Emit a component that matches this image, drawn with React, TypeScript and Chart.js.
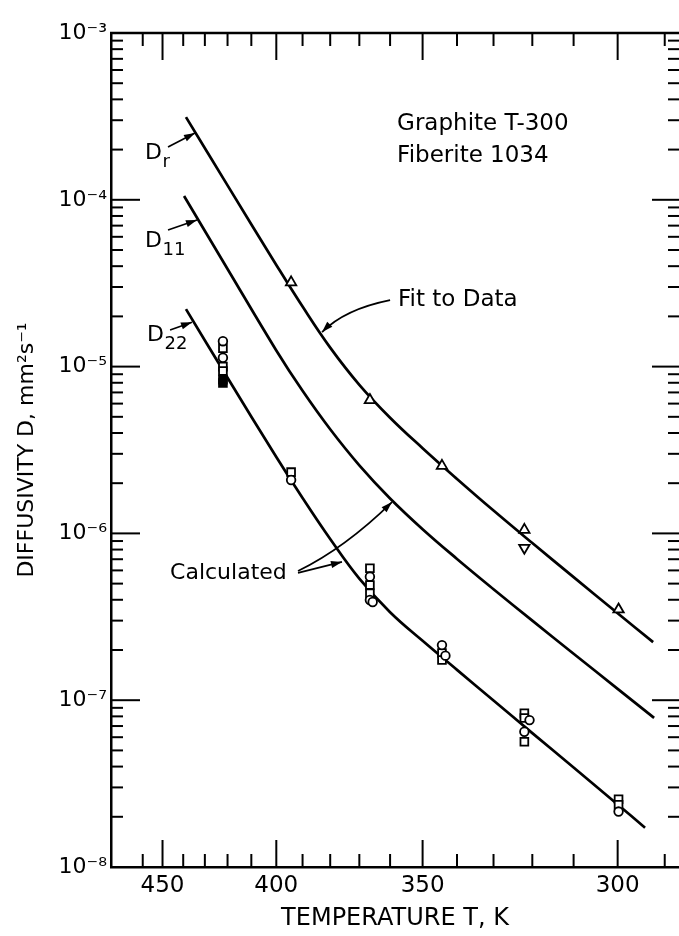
import React, { useEffect, useRef } from 'react';
import { Chart, registerables } from 'chart.js';

Chart.register(...registerables);

const FONT = '"DejaVu Sans", sans-serif';

// ---- axes ----
const X_T_LEFT = 477;      // temperature (K) at the left edge of the plot
const X_T_RIGHT = 287.1;   // temperature (K) at the right edge of the plot
const X_TICK_T = [460, 450, 440, 430, 420, 410, 400, 390, 380, 370, 360, 350, 340, 330, 320, 310, 300, 290];
const X_LABEL_T = [450, 400, 350, 300];
const Y_MIN = 1e-8;
const Y_MAX = 1e-3;
const Y_DECADES = [-8, -7, -6, -5, -4, -3];

// ---- calculated / fitted curves (T in K, D in mm^2/s) ----
const CURVE_DR_T = [438.7, 420, 400, 390, 380, 370, 360, 350, 340, 330, 320, 310, 300, 292.4];
const CURVE_DR_D = [3.13e-4, 1.22e-4, 4.07e-5, 2.29e-5, 1.30e-5, 7.78e-6, 4.94e-6, 3.24e-6, 2.12e-6, 1.37e-6, 8.75e-7, 5.47e-7, 3.32e-7, 2.23e-7];
const CURVE_D11_T = [439.6, 420, 400, 390, 380, 370, 360, 350, 340, 330, 320, 310, 300, 292.2];
const CURVE_D11_D = [1.054e-4, 3.85e-5, 1.25e-5, 7.16e-6, 4.21e-6, 2.56e-6, 1.62e-6, 1.06e-6, 7.03e-7, 4.63e-7, 3.0e-7, 1.90e-7, 1.17e-7, 7.83e-8];
const CURVE_D22_T = [438.7, 420, 400, 390, 380, 370, 360, 350, 340, 330, 320, 310, 300, 294.1];
const CURVE_D22_D = [2.21e-5, 8.57e-6, 2.87e-6, 1.63e-6, 9.25e-7, 5.35e-7, 3.37e-7, 2.27e-7, 1.52e-7, 9.96e-8, 6.35e-8, 3.95e-8, 2.37e-8, 1.72e-8];

// ---- measured data ----
const DR_UP_T = [394.3, 366.5, 344.3, 322.0, 299.8];
const DR_UP_D = [3.2e-5, 6.3e-6, 2.54e-6, 1.05e-6, 3.5e-7];
const DR_DOWN_T = [322.0];
const DR_DOWN_D = [8.2e-7];
const D22_CIRCLE_T = [422.0, 422.0, 394.3, 366.5, 366.5, 365.6, 344.3, 343.3, 320.7, 322.0, 299.8];
const D22_CIRCLE_D = [1.42e-5, 1.13e-5, 2.09e-6, 5.5e-7, 3.99e-7, 3.88e-7, 2.14e-7, 1.85e-7, 7.6e-8, 6.47e-8, 2.15e-8];
const D22_SQUARE_T = [422.0, 422.0, 422.0, 394.3, 366.5, 366.5, 366.5, 344.3, 344.3, 322.0, 322.0, 322.0, 299.8, 299.8];
const D22_SQUARE_D = [1.29e-5, 1.0e-5, 9.4e-6, 2.33e-6, 6.18e-7, 4.9e-7, 4.38e-7, 1.92e-7, 1.74e-7, 8.34e-8, 7.82e-8, 5.63e-8, 2.55e-8, 2.36e-8];
const D22_FILLED_T = [422.0, 422.0];
const D22_FILLED_D = [8.35e-6, 7.98e-6];

// ---- annotations (anchored in data space: T in K, log10 D) ----
const NOTES = [
  { text: 'Graphite T-300', T: 357.8, logD: -3.543, size: 23 },
  { text: 'Fiberite 1034', T: 357.8, logD: -3.737, size: 23 },
  { text: 'Fit to Data', T: 357.5, logD: -4.598, size: 23 },
  { text: 'Calculated', T: 446.3, logD: -6.237, size: 22 },
];
const CURVE_LABELS = [
  { sub: 'r', T: 458.8, logD: -3.719 },
  { sub: '11', T: 458.8, logD: -4.250 },
  { sub: '22', T: 457.8, logD: -4.811 },
];
const ARROWS = [
  { from: [447.3, -3.683], to: [434.5, -3.600] },
  { from: [447.3, -4.181], to: [433.6, -4.121] },
  { from: [446.3, -4.781], to: [435.9, -4.734] },
  { from: [360.0, -4.601], ctrl: [374.9, -4.655], to: [382.9, -4.793] },
  { from: [391.7, -6.237], to: [375.9, -6.171] },
  { from: [391.7, -6.225], ctrl: [374.9, -6.088], to: [359.4, -5.812] },
];

const toU = (T: number) => 1000 / T;
const pts = (Ts: number[], Ds: number[]) => Ts.map((T, i) => ({ x: toU(T), y: Ds[i] }));

const SUP: Record<string, string> = { '-': '\u207B', '0': '\u2070', '1': '\u00B9', '2': '\u00B2', '3': '\u00B3', '4': '\u2074', '5': '\u2075', '6': '\u2076', '7': '\u2077', '8': '\u2078', '9': '\u2079' };
const sup = (n: number) => String(n).split('').map((c) => SUP[c] || c).join('');

function isDecade(v: number) {
  const e = Math.round(Math.log10(v));
  return Math.abs(v / Math.pow(10, e) - 1) < 1e-6;
}

function drawArrow(ctx: CanvasRenderingContext2D, x0: number, y0: number, x1: number, y1: number, c?: number[]) {
  ctx.lineWidth = 1.7;
  ctx.beginPath();
  ctx.moveTo(x0, y0);
  if (c) ctx.quadraticCurveTo(c[0], c[1], x1, y1);
  else ctx.lineTo(x1, y1);
  ctx.stroke();
  const bx = c ? c[0] : x0;
  const by = c ? c[1] : y0;
  const ang = Math.atan2(y1 - by, x1 - bx);
  const L = 11;
  const W = 3.6;
  ctx.beginPath();
  ctx.moveTo(x1, y1);
  ctx.lineTo(x1 - L * Math.cos(ang) + W * Math.sin(ang), y1 - L * Math.sin(ang) - W * Math.cos(ang));
  ctx.lineTo(x1 - L * Math.cos(ang) - W * Math.sin(ang), y1 - L * Math.sin(ang) + W * Math.cos(ang));
  ctx.closePath();
  ctx.fill();
}

const frameTicks = {
  id: 'frameTicks',
  afterDatasetsDraw(chart: any) {
    const { ctx, chartArea: a, scales } = chart;
    const x = scales.x;
    const y = scales.y;
    ctx.save();
    ctx.strokeStyle = '#000';
    ctx.lineCap = 'butt';
    const line = (x0: number, y0: number, x1: number, y1: number) => {
      ctx.beginPath();
      ctx.moveTo(x0, y0);
      ctx.lineTo(x1, y1);
      ctx.stroke();
    };
    ctx.lineWidth = 2.5;
    line(a.left - 1, a.top, a.right, a.top);
    ctx.lineWidth = 2;
    X_TICK_T.forEach((T) => {
      const px = x.getPixelForValue(toU(T));
      const len = X_LABEL_T.includes(T) ? 27 : 13;
      line(px, a.bottom, px, a.bottom - len);
      line(px, a.top, px, a.top + len);
    });
    y.ticks.forEach((t: any) => {
      const py = y.getPixelForValue(t.value);
      const major = isDecade(t.value);
      line(a.left, py, a.left + (major ? 29 : 12), py);
      line(a.right, py, a.right - (major ? 27 : 11), py);
    });
    ctx.restore();
  },
};

const annotations = {
  id: 'annotations',
  afterDatasetsDraw(chart: any) {
    const { ctx, scales } = chart;
    const px = (T: number) => scales.x.getPixelForValue(toU(T));
    const py = (logD: number) => scales.y.getPixelForValue(Math.pow(10, logD));
    ctx.save();
    ctx.fillStyle = '#000';
    ctx.strokeStyle = '#000';
    ctx.textBaseline = 'middle';
    ctx.textAlign = 'left';
    NOTES.forEach((n) => {
      ctx.font = `${n.size}px ${FONT}`;
      ctx.fillText(n.text, px(n.T), py(n.logD));
    });
    CURVE_LABELS.forEach((l) => {
      const x0 = px(l.T);
      const y0 = py(l.logD);
      ctx.font = `22px ${FONT}`;
      ctx.fillText('D', x0, y0);
      const w = ctx.measureText('D').width;
      ctx.font = `18px ${FONT}`;
      ctx.fillText(l.sub, x0 + w + 0.5, y0 + 9);
    });
    ARROWS.forEach((ar) => {
      const c = ar.ctrl ? [px(ar.ctrl[0]), py(ar.ctrl[1])] : undefined;
      drawArrow(ctx, px(ar.from[0]), py(ar.from[1]), px(ar.to[0]), py(ar.to[1]), c);
    });
    ctx.restore();
  },
};

export default function App() {
  const ref = useRef<HTMLCanvasElement | null>(null);

  useEffect(() => {
    if (!ref.current) return;
    Chart.defaults.font.family = FONT;
    Chart.defaults.color = '#000';

    const curve = (label: string, Ts: number[], Ds: number[]) => ({
      label,
      data: pts(Ts, Ds),
      showLine: true,
      borderColor: '#000',
      borderWidth: 2.7,
      pointRadius: 0,
      tension: 0.4,
      fill: false,
      order: 1,
    });
    const marks = (label: string, Ts: number[], Ds: number[], style: string, radius: number, bg: string, rotation = 0) => ({
      label,
      data: pts(Ts, Ds),
      showLine: false,
      pointStyle: style,
      pointRadius: radius,
      pointRotation: rotation,
      pointBorderWidth: 1.8,
      pointBorderColor: '#000',
      pointBackgroundColor: bg,
      borderColor: '#000',
      backgroundColor: bg,
      order: 0,
    });

    const chart = new Chart(ref.current, {
      type: 'scatter',
      data: {
        datasets: [
          curve('Dr', CURVE_DR_T, CURVE_DR_D),
          curve('D11', CURVE_D11_T, CURVE_D11_D),
          curve('D22', CURVE_D22_T, CURVE_D22_D),
          marks('Dr data', DR_UP_T, DR_UP_D, 'triangle', 6, '#fff'),
          marks('Dr data (down)', DR_DOWN_T, DR_DOWN_D, 'triangle', 6, '#fff', 180),
          marks('D22 circles', D22_CIRCLE_T, D22_CIRCLE_D, 'circle', 4.3, '#fff'),
          marks('D22 squares', D22_SQUARE_T, D22_SQUARE_D, 'rect', 5.5, '#fff'),
          marks('D22 filled', D22_FILLED_T, D22_FILLED_D, 'rect', 5.5, '#000'),
        ] as any,
      },
      options: {
        responsive: false,
        devicePixelRatio: 1,
        animation: false,
        events: [],
        layout: { autoPadding: false, padding: { top: 33, right: 0, bottom: 0, left: 0 } },
        plugins: { legend: { display: false }, tooltip: { enabled: false } },
        scales: {
          x: {
            type: 'linear',
            position: 'bottom',
            min: toU(X_T_LEFT),
            max: toU(X_T_RIGHT),
            afterBuildTicks: (s: any) => {
              s.ticks = X_TICK_T.map((T) => ({ value: toU(T) }));
            },
            afterFit: (s: any) => {
              s.height = 69;
            },
            grid: { display: false, drawTicks: false },
            border: { display: true, color: '#000', width: 2.5 },
            ticks: {
              autoSkip: false,
              maxRotation: 0,
              padding: 5,
              color: '#000',
              font: { family: FONT, size: 23 },
              callback: (v: any) => {
                const T = Math.round(1000 / Number(v));
                return X_LABEL_T.includes(T) ? String(T) : '';
              },
            },
            title: {
              display: true,
              text: 'TEMPERATURE T, K',
              color: '#000',
              font: { family: FONT, size: 24 },
              padding: { top: 0, bottom: 3 },
            },
          },
          y: {
            type: 'logarithmic',
            min: Y_MIN,
            max: Y_MAX,
            afterBuildTicks: (s: any) => {
              const t: any[] = [];
              Y_DECADES.forEach((e) => {
                for (let k = 1; k <= 9; k++) {
                  const v = k * Math.pow(10, e);
                  if (v <= Y_MAX * 1.0001) t.push({ value: v });
                }
              });
              s.ticks = t;
            },
            afterFit: (s: any) => {
              s.width = 111;
            },
            grid: { display: false, drawTicks: false },
            border: { display: true, color: '#000', width: 2.5 },
            ticks: {
              autoSkip: false,
              padding: 4,
              color: '#000',
              font: { family: FONT, size: 22 },
              callback: (v: any) => {
                const n = Number(v);
                return isDecade(n) ? '10' + sup(Math.round(Math.log10(n))) : '';
              },
            },
            title: {
              display: true,
              text: 'DIFFUSIVITY D, mm\u00B2s\u207B\u00B9',
              color: '#000',
              font: { family: FONT, size: 22 },
              padding: { top: 14, bottom: 0 },
            },
          },
        },
      } as any,
      plugins: [frameTicks, annotations],
    });
    return () => chart.destroy();
  }, []);

  return (
    <div style={{ position: 'fixed', left: 0, top: 0, width: 679, height: 936, background: '#fff' }}>
      <canvas ref={ref} width={679} height={936} style={{ display: 'block', width: 679, height: 936 }} />
    </div>
  );
}
